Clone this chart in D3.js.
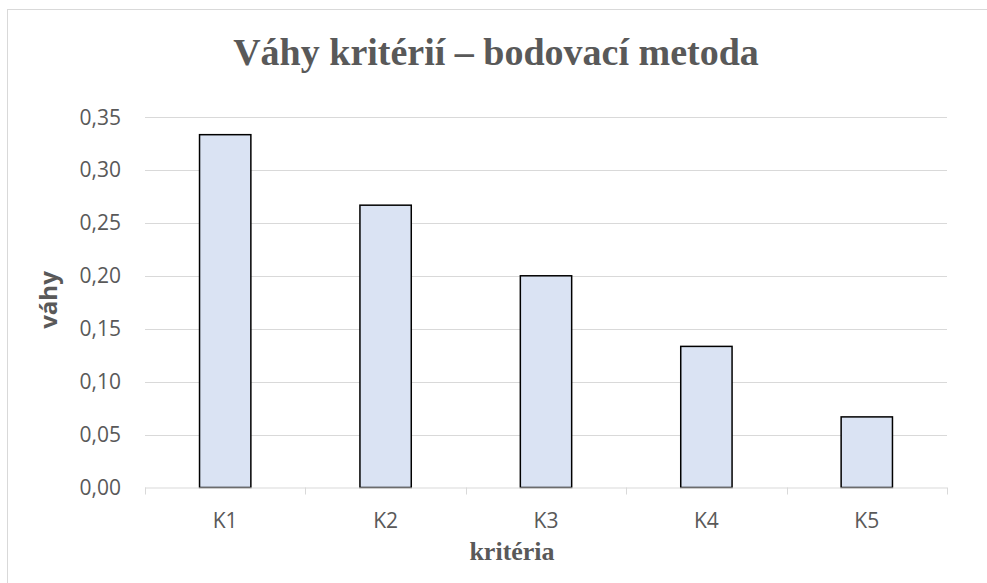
<!DOCTYPE html>
<html>
<head>
<meta charset="utf-8">
<script src="https://cdn.jsdelivr.net/npm/d3@7"></script>
<style>
 body { margin: 0; background: #fff; }
</style>
</head>
<body>
<svg width="987" height="583"></svg>
<script>
// Chart data.

var categories = ['K1', 'K2', 'K3', 'K4', 'K5'];
var weights = [0.3333, 0.2667, 0.2000, 0.1333, 0.0667];
var yTicks = [0, 0.05, 0.10, 0.15, 0.20, 0.25, 0.30, 0.35];

var svg = d3.select('svg');
var margin = {top:117, right:40, bottom:96, left:145};
var width = 947 - margin.left;
var height = 487.5 - margin.top;

// Outer chart border.

svg.append('rect')
 .attr('x', 7.5).attr('y', 9.5)
 .attr('width', 1000).attr('height', 600)
 .attr('fill', 'none')
 .attr('stroke', '#d9d9d9');

var graphic = svg.append('g').attr('transform', 'translate(' + margin.left + ',' + margin.top + ')');

var x = d3.scaleBand()
 .domain(categories)
 .range([0, width])
 .paddingInner(0.68)
 .paddingOuter(0.34);

var y = d3.scaleLinear()
 .domain([0, 0.35])
 .range([height, 0]);

var fmt = function(d) { return d3.format('.2f')(d).replace('.', ','); };

// Gridlines.

graphic.append('g')
 .selectAll('line')
 .data(yTicks.slice(1))
 .enter().append('line')
 .attr('x1', 0).attr('x2', width)
 .attr('y1', function(d) { return Math.round(y(d)) + 0.5; })
 .attr('y2', function(d) { return Math.round(y(d)) + 0.5; })
 .attr('stroke', '#d9d9d9')
 .attr('stroke-width', 1);

// Y labels.

graphic.append('g')
 .selectAll('text')
 .data(yTicks)
 .enter().append('text')
 .attr('x', -24)
 .attr('y', function(d) { return y(d); })
 .attr('dy', '0.36em')
 .attr('text-anchor', 'end')
 .attr('font-family', 'Open Sans, sans-serif')
 .attr('font-size', 21)
 .attr('fill', '#595959')
 .text(fmt);

// Bars.

graphic.append('g')
 .selectAll('rect')
 .data(weights)
 .enter().append('rect')
 .attr('x', function(d, i) { return x(categories[i]); })
 .attr('y', function(d) { return y(d); })
 .attr('width', x.bandwidth())
 .attr('height', function(d) { return height - y(d); })
 .attr('fill', '#dae3f3')
 .attr('stroke', '#000')
 .attr('stroke-width', 1.5);

// X axis.

var step = x.step();
var bounds = d3.range(categories.length + 1).map(function(i) { return i * step; });

var xaxis = graphic.append('g').attr('transform', 'translate(0,' + height + ')');
xaxis.append('line')
 .attr('x1', 0).attr('x2', width)
 .attr('y1', 0.5).attr('y2', 0.5)
 .attr('stroke', '#d9d9d9');
xaxis.selectAll('.tick')
 .data(bounds)
 .enter().append('line')
 .attr('x1', function(d) { return Math.round(d) + 0.5; })
 .attr('x2', function(d) { return Math.round(d) + 0.5; })
 .attr('y1', 0).attr('y2', 7)
 .attr('stroke', '#d9d9d9');
xaxis.selectAll('text')
 .data(categories)
 .enter().append('text')
 .attr('x', function(d) { return x(d) + x.bandwidth() / 2; })
 .attr('y', 40)
 .attr('text-anchor', 'middle')
 .attr('font-family', 'Open Sans, sans-serif')
 .attr('font-size', 21)
 .attr('fill', '#595959')
 .text(function(d) { return d; });

// Titles.

svg.append('text')
 .attr('x', 496).attr('y', 65)
 .attr('text-anchor', 'middle')
 .attr('font-family', 'Liberation Serif, serif')
 .attr('font-weight', 'bold')
 .attr('font-size', 38)
 .attr('fill', '#595959')
 .text('Váhy kritérií – bodovací metoda');

svg.append('text')
 .attr('x', 512).attr('y', 560)
 .attr('text-anchor', 'middle')
 .attr('font-family', 'Liberation Serif, serif')
 .attr('font-weight', 'bold')
 .attr('font-size', 26)
 .attr('fill', '#595959')
 .text('kritéria');

svg.append('text')
 .attr('transform', 'translate(57,300) rotate(-90)')
 .attr('text-anchor', 'middle')
 .attr('font-family', 'Open Sans, sans-serif')
 .attr('font-weight', 'bold')
 .attr('font-size', 24)
 .attr('fill', '#595959')
 .text('váhy');
</script>
</body>
</html>
